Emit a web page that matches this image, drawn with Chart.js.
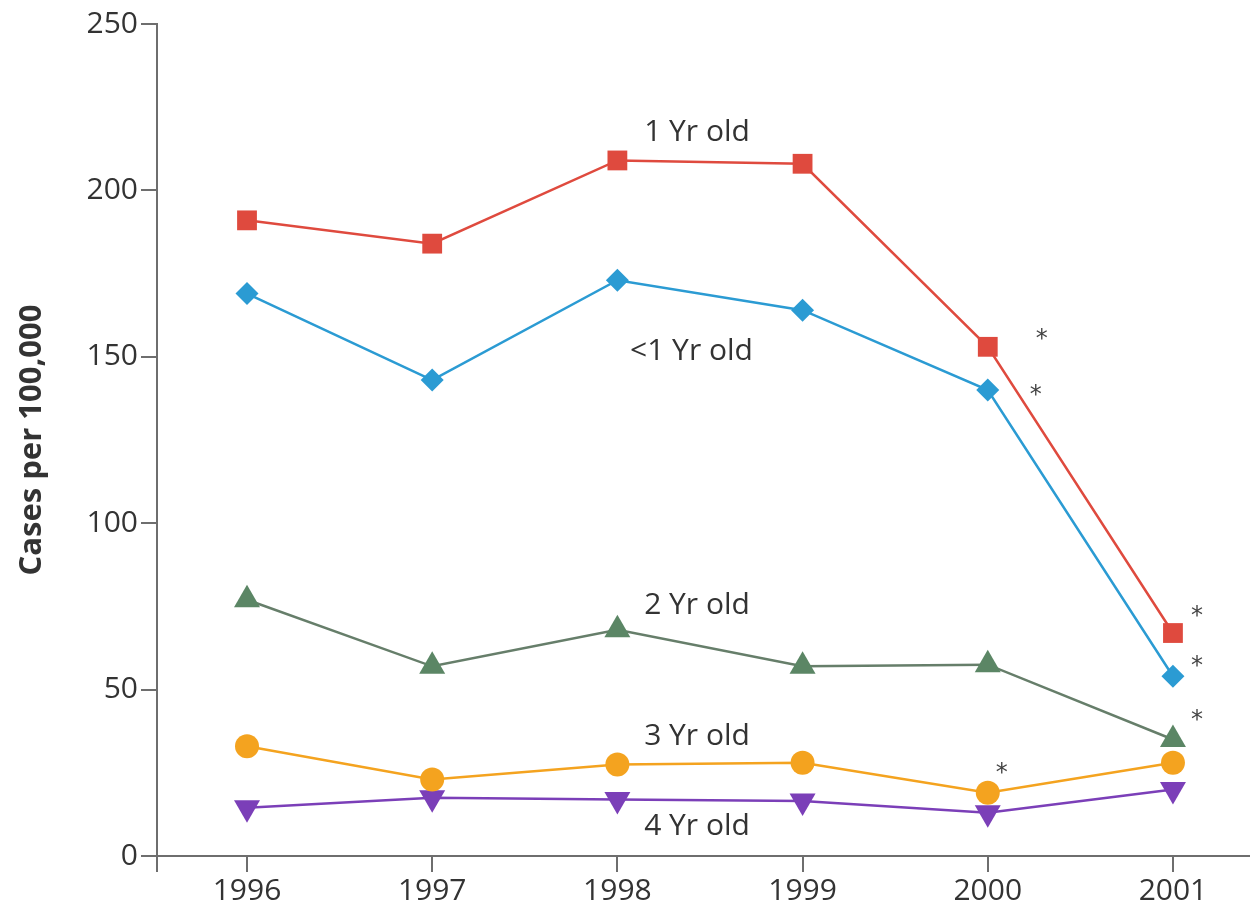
<!DOCTYPE html>
<html>
<head>
<meta charset="utf-8">
<script src="https://cdn.jsdelivr.net/npm/chart.js@4/dist/chart.umd.min.js"></script>
<style>
  html, body { margin: 0; padding: 0; background: #ffffff; overflow: hidden; }
  #wrap { width: 1250px; height: 909px; position: relative; }
  #chart { display: block; }
</style>
</head>
<body>
<div id="wrap"><canvas id="chart" width="1250" height="909"></canvas></div>
<script>
// Reported cases per 100,000 children, by age group and year
const years = [1996, 1997, 1998, 1999, 2000, 2001];
const ageUnder1 = [169, 143, 173, 164, 140, 54];
const age1 = [191, 184, 209, 208, 153, 67];
const age2 = [77, 57, 68, 57, 57.5, 35];
const age3 = [33, 23, 27.5, 28, 19, 28];
const age4 = [14.5, 17.5, 17, 16.5, 13, 20];
const yTicks = [0, 50, 100, 150, 200, 250];

// Years marked as significant (asterisk) for each age group
const sigAge1 = [2000, 2001];
const sigUnder1 = [2000, 2001];
const sigAge2 = [2001];
const sigAge3 = [2000];
const sigAge4 = [];

const FONT = "'Open Sans', 'DejaVu Sans', sans-serif";
const TEXT = '#333333';
const AXIS = '#6e6e6e';
const X_MIN = 1995.514;
const X_MAX = 2001.416;

const toPoints = vals => years.map((yr, i) => ({ x: yr, y: vals[i] }));

function series(label, vals, color, lineColor, style, radius, rotation) {
  return {
    label,
    data: toPoints(vals),
    borderColor: lineColor,
    backgroundColor: color,
    borderWidth: 2.5,
    pointStyle: style,
    pointRadius: radius,
    pointRotation: rotation || 0,
    pointBackgroundColor: color,
    pointBorderColor: color,
    pointBorderWidth: 0,
    pointHoverRadius: radius,
    tension: 0,
    fill: false
  };
}

const datasets = [
  series('1 Yr old', age1, '#df4a3e', '#df4a3e', 'rect', 14),
  series('<1 Yr old', ageUnder1, '#2b9bd3', '#2b9bd3', 'rectRot', 11.5),
  series('2 Yr old', age2, '#5b8665', '#667e6a', 'triangle', 15),
  series('3 Yr old', age3, '#f4a31f', '#f4a31f', 'circle', 12),
  series('4 Yr old', age4, '#7b3fb8', '#7b3fb8', 'triangle', 15, 180)
];

// In-plot series names (centre x in years, centre y in cases)
const seriesNames = [
  { text: '1 Yr old', x: 1998.43, y: 217.5 },
  { text: '<1 Yr old', x: 1998.40, y: 151.5 },
  { text: '2 Yr old', x: 1998.43, y: 75.3 },
  { text: '3 Yr old', x: 1998.43, y: 35.8 },
  { text: '4 Yr old', x: 1998.43, y: 9.0 }
];

// Asterisk offsets (px) from the marked point, per dataset and year
const starOffsets = {
  0: { 2000: [54, -15], 2001: [24, -24] },
  1: { 2000: [48, -2], 2001: [24, -17] },
  2: { 2001: [24, -27] },
  3: { 2000: [14, -27] },
  4: {}
};
const sigByDataset = [sigAge1, sigUnder1, sigAge2, sigAge3, sigAge4];

const annotations = {
  id: 'annotations',
  afterDatasetsDraw(chart) {
    const { ctx, scales: { x, y } } = chart;
    ctx.save();
    ctx.fillStyle = TEXT;
    ctx.font = `30px ${FONT}`;
    ctx.textAlign = 'center';
    ctx.textBaseline = 'middle';
    seriesNames.forEach(n => {
      ctx.fillText(n.text, x.getPixelForValue(n.x), y.getPixelForValue(n.y));
    });

    ctx.font = `24px 'DejaVu Sans', sans-serif`;
    ctx.fillStyle = '#444444';
    ctx.textBaseline = 'alphabetic';
    sigByDataset.forEach((sigYears, di) => {
      const vals = chart.data.datasets[di].data;
      sigYears.forEach(yr => {
        const pt = vals.find(p => p.x === yr);
        const off = starOffsets[di][yr] || [20, -20];
        const px = x.getPixelForValue(pt.x) + off[0];
        const py = y.getPixelForValue(pt.y) + off[1];
        ctx.fillText('*', px, py + 14);
      });
    });
    ctx.restore();
  }
};

new Chart(document.getElementById('chart'), {
  type: 'line',
  data: { datasets },
  options: {
    responsive: false,
    animation: false,
    events: [],
    layout: { autoPadding: false, padding: { left: 0, right: 0, top: 24, bottom: 0 } },
    plugins: {
      legend: { display: false },
      tooltip: { enabled: false }
    },
    scales: {
      x: {
        type: 'linear',
        min: X_MIN,
        max: X_MAX,
        border: { display: true, color: AXIS, width: 2 },
        grid: {
          drawOnChartArea: false,
          drawTicks: true,
          tickLength: 16,
          color: AXIS,
          lineWidth: 2
        },
        ticks: {
          autoSkip: false,
          maxRotation: 0,
          padding: 1,
          color: TEXT,
          font: { family: FONT, size: 30 },
          callback: v => (years.includes(v) ? String(v) : '')
        },
        afterBuildTicks: scale => {
          scale.ticks = [X_MIN, ...years].map(v => ({ value: v }));
        },
        afterFit: scale => {
          scale.height = 53;
          scale.paddingLeft = 0;
          scale.paddingRight = 0;
        }
      },
      y: {
        type: 'linear',
        min: 0,
        max: 250,
        border: { display: true, color: AXIS, width: 2 },
        grid: {
          drawOnChartArea: false,
          drawTicks: true,
          tickLength: 16,
          color: AXIS,
          lineWidth: 2
        },
        ticks: {
          padding: 3,
          color: TEXT,
          font: { family: FONT, size: 30 }
        },
        afterBuildTicks: scale => {
          scale.ticks = yTicks.map(v => ({ value: v }));
        },
        title: {
          display: true,
          text: 'Cases per 100,000',
          color: TEXT,
          font: { family: FONT, size: 31, weight: 'bold' },
          padding: { top: 14, bottom: 0 }
        },
        afterFit: scale => { scale.width = 157; }
      }
    }
  },
  plugins: [annotations]
});
</script>
</body>
</html>
